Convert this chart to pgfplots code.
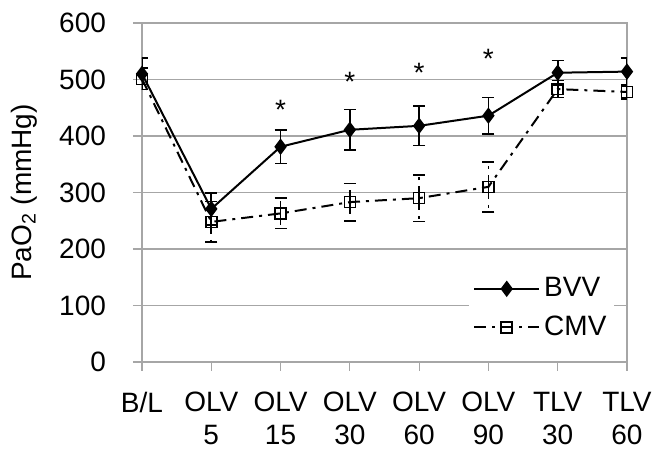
\documentclass[border=0pt]{standalone}
\usepackage{fontspec}
\setmainfont{Liberation Sans}
\usepackage{pgfplots}
\pgfplotsset{compat=1.18}
\definecolor{gridgray}{HTML}{A6A6A6}

\begin{document}
\begin{tikzpicture}[font=\fontsize{14}{17}\selectfont]
\useasboundingbox (-71pt,-44pt) rectangle (256.5pt,181pt);
\begin{axis}[scale only axis, width=242.5pt, height=169.5pt,
  xmin=0, xmax=7, ymin=0, ymax=600,
  xtick={0,...,7}, ytick={0,100,...,600},
  xticklabels={B/L, OLV\\5, OLV\\15, OLV\\30, OLV\\60, OLV\\90, TLV\\30, TLV\\60},
  xticklabel style={align=center, font=\fontsize{14}{16.5}\selectfont, yshift=-7pt},
  yticklabel style={font=\fontsize{14}{17}\selectfont, xshift=-10pt},
  /pgf/number format/assume math mode=true,
  ymajorgrids, grid style={gridgray, line width=0.6pt},
  axis line style={gridgray, line width=0.6pt},
  tick style={gridgray, line width=0.6pt},
  tick align=outside, major tick length=4.5pt,
  xtick pos=left, ytick pos=left,
  ylabel={PaO\textsubscript{2} (mmHg)},
  every axis y label/.style={at={(axis description cs:0,0.5)}, xshift=-59pt, rotate=90, anchor=center,
    font=\fontsize{14}{17}\selectfont},
  legend style={draw=none, fill=white, at={(0.975,0.159)}, anchor=east,
    font=\fontsize{14}{17}\selectfont, row sep=4pt, inner sep=2pt},
  legend cell align=left, reverse legend,
  legend image code/.code={\draw[mark repeat=2, mark phase=2, #1] plot coordinates {(0pt,0pt) (16.25pt,0pt) (32.5pt,0pt)};},
  error bars/error bar style={black, line width=0.8pt},
  error bars/error mark options={rotate=90, mark size=3pt, line width=0.8pt, black},
]
\addplot[black, line width=1pt, dash pattern=on 6pt off 3pt on 1.5pt off 3pt,
  mark=square, mark size=2.75pt, mark options={solid, fill=white, line width=0.8pt},
  error bars/.cd, y dir=both, y explicit] coordinates {
  (0,501) +- (0,19)
  (1,248) +- (0,36)
  (2,263) +- (0,27)
  (3,283) +- (0,33)
  (4,290) +- (0,41)
  (5,310) +- (0,44)
  (6,483) +- (0,15)
  (7,478) +- (0,12)
};
\addlegendentry{CMV}
\addplot[black, line width=1pt, mark=diamond*, mark size=3.3pt, mark options={solid},
  error bars/.cd, y dir=both, y explicit] coordinates {
  (0,510) +- (0,28)
  (1,271) +- (0,28)
  (2,381) +- (0,30)
  (3,411) +- (0,36)
  (4,418) +- (0,35)
  (5,436) +- (0,32)
  (6,512) +- (0,22)
  (7,514) +- (0,24)
};
\addlegendentry{BVV}
\addplot[draw=none, mark=none, forget plot, nodes near coords, point meta=explicit symbolic,
  every node near coord/.append style={anchor=center, yshift=-3pt, font=\fontsize{14}{17}\selectfont}]
  coordinates {(2,457)[*] (3,506)[*] (4,522)[*] (5,547)[*]};
\end{axis}
\end{tikzpicture}
\end{document}
